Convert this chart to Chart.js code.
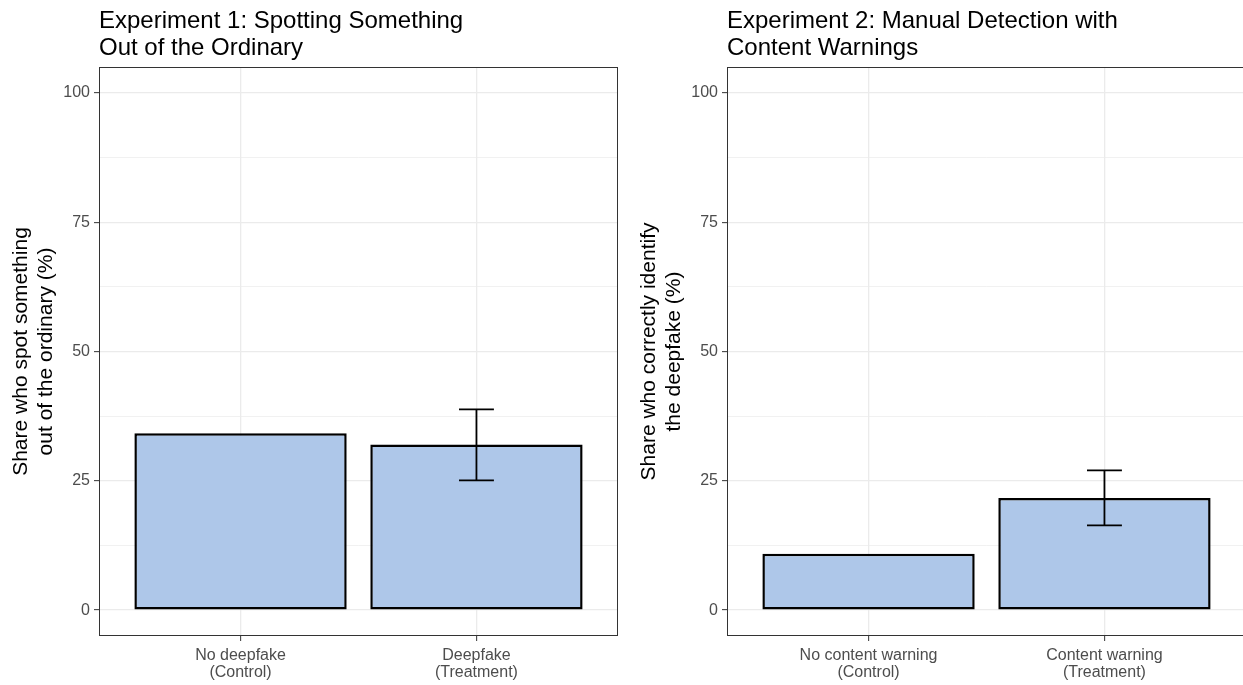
<!DOCTYPE html>
<html>
<head>
<meta charset="utf-8">
<script src="https://cdn.jsdelivr.net/npm/chart.js@4.4.1/dist/chart.umd.min.js"></script>
<style>
  html, body { margin: 0; padding: 0; background: #fff; overflow: hidden; width: 1243px; height: 685px; }
  .panel { position: absolute; top: 0; width: 632px; height: 685px; }
  .panel canvas { position: absolute; left: 0; top: 0; }
  .title { position: absolute; top: 6px; left: 99px; font: 24px "Liberation Sans", Arial, sans-serif; line-height: 27px; color: #000; white-space: nowrap; }
</style>
</head>
<body>
<div class="panel" style="left:0px">
  <canvas id="exp1Chart" width="632" height="685"></canvas>
  <div class="title">Experiment 1: Spotting Something<br>Out of the Ordinary</div>
</div>
<div class="panel" style="left:628px">
  <canvas id="exp2Chart" width="632" height="685"></canvas>
  <div class="title">Experiment 2: Manual Detection with<br>Content Warnings</div>
</div>
<script>
// Data eksperimen 1
const exp1Categories = [['No deepfake', '(Control)'], ['Deepfake', '(Treatment)']];
const exp1Values = [34.2, 32.0];
const exp1ErrLow = [null, 25.1];
const exp1ErrHigh = [null, 38.8];
const exp1AxisTitle = ['Share who spot something', 'out of the ordinary (%)'];

// Data eksperimen 2
const exp2Categories = [['No content warning', '(Control)'], ['Content warning', '(Treatment)']];
const exp2Values = [10.9, 21.7];
const exp2ErrLow = [null, 16.4];
const exp2ErrHigh = [null, 27.0];
const exp2AxisTitle = ['Share who correctly identify', 'the deepfake (%)'];

// Tick grid y (major tiap 25, minor di tengahnya)
const yGridValues = [0, 12.5, 25, 37.5, 50, 62.5, 75, 87.5, 100];

const FONT = '"Liberation Sans", Arial, sans-serif';

// Plugin: error bar + bingkai panel
const errorBarPlugin = {
    id: 'errorBars',
    afterDatasetsDraw(chart, args, opts) {
        const { ctx, scales: { x, y } } = chart;
        ctx.save();
        ctx.strokeStyle = '#000';
        ctx.lineWidth = 1.8;
        opts.low.forEach((lo, i) => {
            const hi = opts.high[i];
            if (lo == null || hi == null) return;
            const cx = x.getPixelForValue(i + 1);
            const x0 = x.getPixelForValue(i + 1 - 0.074);
            const x1 = x.getPixelForValue(i + 1 + 0.074);
            const yLo = y.getPixelForValue(lo);
            const yHi = y.getPixelForValue(hi);
            ctx.beginPath();
            ctx.moveTo(cx, yHi); ctx.lineTo(cx, yLo);
            ctx.moveTo(x0, yHi); ctx.lineTo(x1, yHi);
            ctx.moveTo(x0, yLo); ctx.lineTo(x1, yLo);
            ctx.stroke();
        });
        ctx.restore();
    },
    afterDraw(chart) {
        const { ctx, chartArea: a } = chart;
        ctx.save();
        ctx.strokeStyle = '#333';
        ctx.lineWidth = 1;
        ctx.strokeRect(Math.round(a.left) + 0.5, Math.round(a.top) + 0.5,
            Math.round(a.right - a.left) - 1, Math.round(a.bottom - a.top) - 1);
        ctx.restore();
    }
};

function buildChart(canvasId, categories, values, errLow, errHigh, axisTitle) {
    const ctx = document.getElementById(canvasId);
    return new Chart(ctx, {
        type: 'bar',
        data: {
            datasets: [{
                data: values.map((v, i) => ({ x: i + 1, y: v })),
                backgroundColor: '#aec7e9',
                borderColor: '#000',
                borderWidth: 2.5,
                borderSkipped: false,
                barPercentage: 0.9,
                categoryPercentage: 1.0,
            }]
        },
        options: {
            responsive: false,
            animation: false,
            layout: { padding: { top: 67, right: 14, bottom: 0, left: 0 } },
            plugins: {
                legend: { display: false },
                tooltip: { enabled: false },
                errorBars: { low: errLow, high: errHigh },
            },
            scales: {
                x: {
                    type: 'linear',
                    min: 0.4,
                    max: 2.6,
                    offset: false,
                    afterBuildTicks: (scale) => { scale.ticks = categories.map((c, i) => ({ value: i + 1 })); },
                    afterFit: (scale) => { scale.height = 49; },
                    border: { display: false },
                    grid: { offset: false, color: '#ebebeb', lineWidth: 1.3, tickColor: '#333', tickLength: 5, tickWidth: 1 },
                    ticks: {
                        autoSkip: false,
                        maxRotation: 0,
                        padding: 6,
                        color: '#4d4d4d',
                        font: { family: FONT, size: 16, lineHeight: 1.05 },
                        callback: (v) => categories[Math.round(v) - 1],
                    },
                },
                y: {
                    min: -5,
                    max: 105,
                    afterBuildTicks: (scale) => { scale.ticks = yGridValues.map(v => ({ value: v })); },
                    afterFit: (scale) => { scale.width = 99; },
                    border: { display: false },
                    grid: {
                        color: '#ebebeb',
                        lineWidth: (c) => (c.tick && c.tick.value % 25 === 0 ? 1.3 : 0.7),
                        tickColor: (c) => (c.tick && c.tick.value % 25 === 0 ? '#333' : 'rgba(0,0,0,0)'),
                        tickLength: 5,
                        tickWidth: 1,
                    },
                    ticks: {
                        autoSkip: false,
                        padding: 4,
                        color: '#4d4d4d',
                        font: { family: FONT, size: 16 },
                        callback: (v) => (v % 25 === 0 ? String(v) : ''),
                    },
                    title: {
                        display: true,
                        text: axisTitle,
                        color: '#000',
                        font: { family: FONT, size: 21, lineHeight: 1.19 },
                        padding: { top: 9, bottom: 0 },
                    },
                },
            },
        },
        plugins: [errorBarPlugin],
    });
}

buildChart('exp1Chart', exp1Categories, exp1Values, exp1ErrLow, exp1ErrHigh, exp1AxisTitle);
buildChart('exp2Chart', exp2Categories, exp2Values, exp2ErrLow, exp2ErrHigh, exp2AxisTitle);
</script>
</body>
</html>
